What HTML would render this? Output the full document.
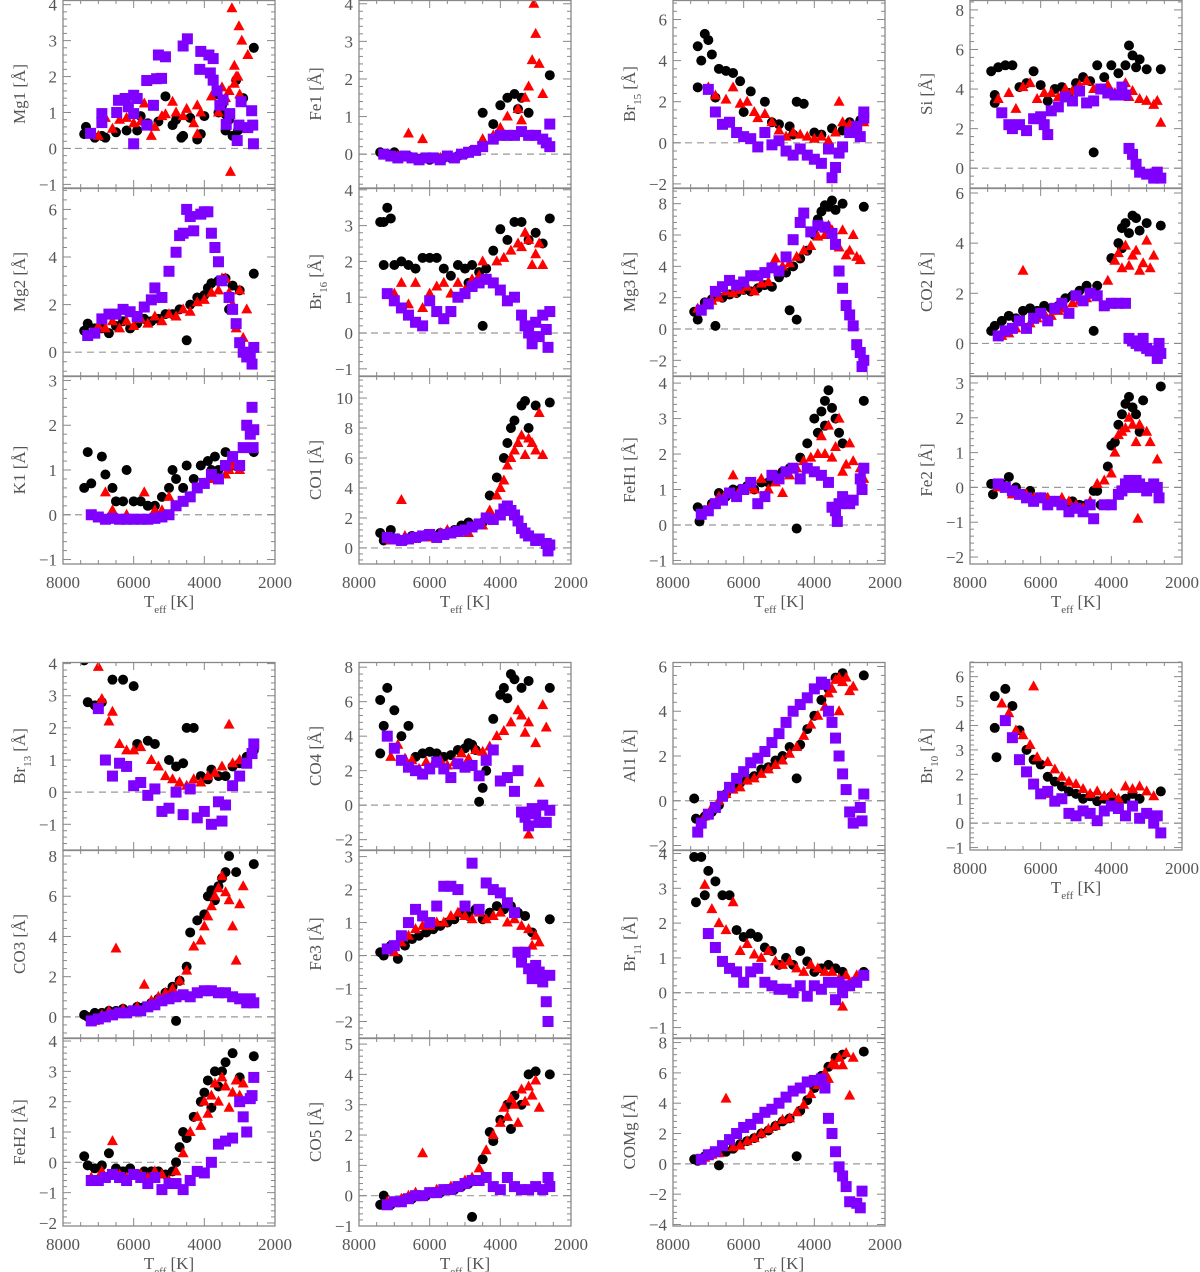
<!DOCTYPE html>
<html><head><meta charset="utf-8"><style>
html,body{margin:0;padding:0;background:#fff;}
svg{display:block;font-family:"Liberation Serif",serif;}
</style></head><body>
<svg id="fig" width="1200" height="1272" viewBox="0 0 1200 1272" xmlns="http://www.w3.org/2000/svg"></svg>
<script>
// ---- data arrays: flat [Teff, value, Teff, value, ...] ----
const mg1K=[7400,0.4,7350,0.6,7100,0.3,6900,0.35,6800,0.3,6500,0.45,6200,0.5,5900,0.5,5800,0.9,5600,0.7,5300,0.75,5100,1.45,4900,0.65,4800,0.8,4650,0.3,4600,0.35,4400,0.85,4200,0.25,4100,0.4,4000,0.9,3700,1.5,3600,1.0,3500,1.2,3400,0.95,3300,0.8,3400,0.5,3200,0.35,3100,1.9,2900,1.4,3050,0.5,2600,2.8];
const mg1R=[7200,0.4,7000,0.35,6800,0.85,6600,0.55,6400,0.8,6200,0.85,6000,0.7,5800,0.75,5700,1.25,5500,0.35,5400,0.6,5200,0.9,5100,0.95,4900,1.3,4800,1.0,4600,0.9,4500,1.1,4300,0.7,4200,1.2,4100,1.0,3800,1.45,3600,1.0,3500,1.7,3400,1.4,3300,1.6,4200,0.4,3150,1.8,3000,1.5,3050,2.0,3150,2.3,3220,3.9,3020,3.4,2940,3.0,2770,2.6,3260,-0.65,3100,2.0];
const mg1P=[7220,0.42,6900,0.72,6900,0.97,6480,1.0,6430,1.34,6240,1.39,6150,1.16,6000,1.48,5900,1.39,6000,0.97,6000,0.13,5630,0.65,5630,1.89,5440,1.2,5350,1.94,5210,1.95,5300,2.6,5100,2.55,4600,2.85,4480,3.05,4130,2.2,4100,2.7,3870,2.6,3750,2.5,3830,2.1,3750,1.9,3640,1.6,3560,1.2,3470,1.35,3380,0.67,3280,0.97,3070,0.22,3020,0.65,2960,1.3,2770,0.58,2660,1.05,2610,0.13,2630,0.65];
const fe1K=[7400,0.05,7200,0.0,7000,0.05,6800,-0.05,6600,-0.05,6400,-0.1,6200,-0.1,6000,-0.15,5800,-0.1,5600,-0.1,5400,-0.1,5200,-0.05,5000,0.0,4800,0.1,4500,1.1,4200,0.8,4000,1.3,3800,1.5,3600,1.6,3400,1.5,3200,1.1,2600,2.1,3500,1.2];
const fe1R=[7200,0.0,6900,-0.05,6600,0.55,6200,0.4,6000,-0.1,5700,-0.1,5400,-0.05,5100,0.0,4800,0.1,4500,0.4,4200,0.5,4000,0.7,3800,1.0,3500,1.2,3300,1.5,3200,1.8,3100,2.5,3000,3.2,3050,4.0,2900,2.4,2800,1.6,3400,0.9];
const fe1P=[7300,0.0,7100,-0.05,6900,-0.1,6700,-0.05,6500,-0.1,6300,-0.15,6100,-0.1,5900,-0.1,5700,-0.15,5500,-0.05,5300,-0.1,5100,0.0,4900,0.05,4700,0.1,4500,0.2,4200,0.4,4000,0.5,3800,0.5,3600,0.5,3400,0.6,3200,0.5,3000,0.5,2800,0.4,2600,0.2,2600,0.8,2700,0.3];
const br15K=[7300,4.7,7200,4.0,7100,5.3,7000,5.0,6900,4.3,6700,3.6,6500,3.5,6300,3.4,6100,3.0,5800,2.5,5400,2.0,4500,2.0,4300,1.9,5000,0.9,4700,0.8,4600,0.4,4000,0.5,3800,0.4,3500,0.7,3200,0.6,3000,1.0,2700,1.1,7300,2.7,6800,2.2,6000,1.5,5200,1.0];
const br15R=[7000,2.7,6800,2.3,6500,2.1,6300,2.7,6100,1.9,5900,2.0,5700,1.5,5600,1.2,5400,1.4,5200,1.0,5000,0.6,4800,0.3,4600,0.5,4400,0.4,4200,0.3,4000,0.2,3800,0.3,3600,0.1,3400,0.5,3300,2.0,3200,1.0,3000,0.9,2800,0.7,2600,1.0];
const br15P=[7000,2.6,6800,1.5,6600,0.9,6400,1.0,6200,0.5,6000,0.3,5800,0.2,5600,-0.2,5400,0.5,5200,-0.1,5000,0.1,4800,-0.4,4600,-0.6,4400,-0.3,4200,-0.6,4000,-0.8,3800,-1.0,3600,-0.3,3500,-1.7,3400,-1.2,3300,-0.5,3200,-0.2,3000,0.5,2800,0.8,2600,1.2,2600,1.5,2700,0.3];
const siK=[7400,4.9,7300,3.7,7200,5.1,7000,5.2,6800,5.2,6600,4.1,6400,4.3,6200,4.9,6000,4.2,5800,3.4,5600,4.0,5400,4.1,5200,3.8,5000,4.3,4800,4.6,4600,4.4,4400,5.2,4200,4.6,4000,5.2,3800,4.8,3600,5.2,3500,6.2,3400,5.7,3300,5.1,3200,5.5,3000,5.0,2600,5.0,4500,0.8,7300,3.3];
const siR=[7200,3.5,6900,3.8,6700,3.0,6500,4.1,6300,4.3,6100,3.5,5900,3.8,5700,3.8,5500,3.6,5300,4.0,5100,3.9,4900,4.2,4700,4.4,4500,4.0,4300,4.0,4100,4.2,3900,3.8,3700,4.0,3600,4.3,3500,3.6,3400,3.9,3200,3.5,3000,3.4,2800,3.2,2700,3.4,2600,2.3];
const siP=[7100,2.8,6900,2.2,6800,2.0,6600,2.2,6400,1.9,6200,2.5,6000,2.6,5900,2.2,5800,1.7,5700,2.9,5500,3.1,5300,3.6,5100,3.4,4900,3.9,4700,3.3,4500,3.4,4300,4.0,4100,3.8,3900,3.7,3700,4.1,3500,1.0,3400,0.7,3300,0.2,3200,-0.2,3000,-0.3,2800,-0.5,2600,-0.5,2700,-0.2,3600,3.7];
const mg2K=[7400,0.9,7300,1.2,7100,1.0,6900,1.0,6700,0.8,6500,1.1,6300,1.3,6100,1.0,5900,1.2,5700,1.4,5500,1.3,5300,1.4,5100,1.6,4900,1.6,4700,1.8,4500,0.5,4400,2.0,4200,2.3,4000,2.4,3900,2.7,3800,2.9,3600,3.0,3400,3.1,3200,2.8,3000,2.6,2600,3.3,3300,1.8];
const mg2R=[7200,0.8,7000,1.1,6800,1.0,6600,1.3,6400,1.0,6200,1.3,6000,1.1,5800,1.4,5600,1.2,5400,1.5,5200,1.3,5000,1.6,4800,1.5,4600,1.8,4400,1.7,4200,2.1,4000,2.2,3800,2.5,3600,2.6,3500,3.1,3400,3.1,3300,2.5,3200,2.0,3100,1.0,3000,2.6,2900,0.6,2800,1.8];
const mg2P=[7300,0.7,7100,0.8,6900,1.4,6700,1.6,6500,1.6,6300,1.8,6100,1.7,5900,1.5,5700,1.9,5500,2.2,5400,2.7,5200,2.3,5000,3.4,4800,4.2,4700,4.9,4600,5.0,4500,6.0,4400,5.7,4300,5.1,4100,5.8,4000,5.9,3900,5.9,3800,5.0,3700,4.4,3600,3.8,3500,3.0,3300,2.3,3200,1.8,3100,1.2,3000,0.4,2900,0.0,2800,-0.2,2650,-0.5,2600,0.2,2700,-0.2];
const br16K=[7400,3.1,7300,3.1,7200,3.5,7100,3.2,7300,1.9,7000,1.9,6800,2.0,6600,1.9,6400,1.8,6200,2.1,6000,2.1,5800,2.1,5600,1.8,5400,1.6,5200,1.9,5000,1.8,4900,1.4,4800,1.9,4600,1.7,4500,0.2,4400,1.8,4200,2.3,4000,2.9,3800,2.6,3600,3.1,3400,3.1,3200,2.6,3000,2.8,2800,2.5,2600,3.2];
const br16R=[7000,1.1,6800,1.4,6600,0.8,6400,1.4,6200,0.7,6000,1.1,5800,1.3,5600,1.4,5400,1.1,5200,1.4,5000,1.2,4800,1.5,4600,1.6,4500,2.0,4300,1.5,4100,2.0,3900,2.1,3700,2.3,3500,2.5,3400,2.4,3300,2.8,3200,2.6,3100,1.9,3000,2.2,2900,2.5,2800,1.9];
const br16P=[7200,1.1,7000,0.9,6800,0.7,6600,0.5,6400,0.3,6200,0.2,6000,0.9,5800,0.6,5600,0.4,5400,0.6,5200,1.0,5000,1.1,4800,1.3,4600,1.4,4400,1.5,4200,1.4,4000,1.2,3800,0.9,3600,1.0,3400,0.5,3300,0.2,3200,0.0,3100,-0.3,3000,0.3,2900,-0.1,2800,0.5,2700,0.1,2650,-0.4,2600,0.6];
const mg3K=[7400,1.1,7300,0.6,7100,1.7,6900,1.9,6800,0.2,6600,2.0,6400,2.2,6200,2.3,6000,2.5,5800,2.4,5600,2.6,5400,2.8,5200,2.7,5000,3.3,4800,3.6,4700,1.2,4600,4.0,4500,0.6,4400,4.5,4200,5.0,4000,6.0,3900,7.0,3800,7.5,3700,7.9,3600,7.8,3500,8.2,3400,7.6,3200,8.0,2600,7.8];
const mg3R=[7300,1.3,7100,1.5,6900,1.8,6700,2.0,6500,2.4,6300,2.3,6100,2.5,5900,2.7,5700,2.4,5500,2.9,5300,3.0,5100,4.5,4900,4.0,4700,4.2,4500,4.6,4300,5.0,4100,5.3,3900,5.9,3700,6.0,3600,6.6,3500,6.3,3400,5.6,3300,5.2,3200,6.3,3100,4.7,3000,5.0,2900,6.0,2800,4.6,2700,4.4];
const mg3P=[7200,1.2,7000,1.6,6800,2.4,6600,2.7,6400,3.1,6200,2.8,6000,3.0,5800,3.4,5600,3.4,5400,3.6,5200,3.9,5000,3.7,4800,4.6,4600,5.7,4400,6.8,4300,7.4,4100,6.2,3900,6.6,3700,6.5,3500,6.1,3400,5.4,3300,3.7,3200,2.6,3100,1.5,3000,0.9,2900,0.2,2800,-1.0,2700,-1.5,2650,-2.4,2600,-2.0];
const co2K=[7400,0.5,7300,0.7,7100,0.9,6900,1.1,6700,1.0,6500,1.3,6300,1.4,6100,1.3,5900,1.5,5700,1.4,5500,1.5,5300,1.8,5100,1.9,4900,2.1,4700,2.3,4500,0.5,4400,2.3,4000,3.4,3800,4.0,3700,4.6,3600,4.8,3500,4.4,3400,5.1,3300,5.0,3200,4.5,3000,4.8,2600,4.7,3700,3.8];
const co2R=[7100,0.3,6900,0.4,6700,0.6,6500,2.9,6300,0.8,6100,1.0,5900,1.2,5700,1.1,5500,1.3,5300,1.4,5100,1.6,4900,1.7,4700,1.8,4500,2.0,4100,2.5,3900,3.3,3800,3.6,3700,3.0,3600,3.9,3500,3.1,3400,3.5,3300,3.7,3200,2.9,3100,3.2,3000,4.1,2900,3.0,2800,3.5];
const co2P=[7200,0.3,7000,0.5,6800,0.6,6600,0.9,6400,0.6,6200,1.0,6000,1.2,5800,0.9,5600,1.4,5400,1.6,5200,1.2,5000,1.9,4800,1.7,4600,2.0,4400,1.9,4200,1.5,4000,1.6,3800,1.6,3600,1.6,3500,0.2,3400,0.1,3300,0.0,3200,-0.1,3100,0.2,3000,-0.2,2900,-0.3,2700,-0.6,2600,-0.4,2650,0.0];
const k1K=[7400,0.6,7300,1.4,7200,0.7,6900,1.3,6800,0.9,6600,0.6,6500,0.3,6300,0.3,6200,1.0,6000,0.3,5800,0.3,5600,0.2,5400,0.2,5200,0.4,5000,0.6,4900,1.0,4800,0.8,4600,0.6,4500,1.1,4300,0.8,4100,1.1,3900,1.2,3800,1.0,3700,1.3,3600,1.0,3400,1.4,3200,1.1,2600,1.4];
const k1R=[7100,0.0,6800,0.5,6600,0.1,6200,0.0,6000,-0.1,5700,0.5,5400,0.1,5200,0.1,5000,0.4,4800,0.2,4600,0.3,4400,0.4,4200,0.6,4000,0.7,3800,0.8,3600,0.8,3400,0.9,3300,1.0,3200,1.1,3000,1.0];
const k1P=[7200,0.0,7000,-0.05,6800,-0.1,6600,-0.08,6400,-0.1,6200,-0.1,6000,-0.1,5800,-0.1,5600,-0.1,5400,-0.08,5200,-0.05,5000,0.0,4800,0.2,4600,0.3,4400,0.4,4200,0.6,4000,0.7,3800,0.9,3600,0.8,3400,1.1,3200,1.3,3000,1.1,2900,1.5,2800,2.0,2700,1.8,2650,2.4,2600,1.9,2620,1.5];
const co1K=[7400,1.0,7300,0.5,7100,1.2,6900,0.6,6700,0.5,6500,0.8,6300,0.7,6100,0.9,5900,0.8,5700,1.0,5500,1.0,5300,1.2,5100,1.5,4900,1.7,4700,1.5,4500,1.7,4300,3.5,4100,4.7,3900,6.0,3800,7.0,3700,8.0,3600,8.5,3400,9.5,3300,9.8,3200,8.0,3000,9.5,2600,9.7];
const co1R=[7100,0.5,6900,0.6,6700,0.8,6500,0.6,6300,0.8,6100,0.7,5900,0.8,5700,1.0,5500,1.2,5300,1.0,5100,1.1,4900,1.0,4500,1.5,4300,2.5,4100,3.5,4000,4.0,3900,4.5,3800,5.5,3700,6.0,3600,6.5,3500,7.0,3400,7.5,3300,6.2,3200,7.3,3100,7.0,3000,6.5,2900,9.0,2800,6.2,6800,3.2];
const co1P=[7200,0.7,7000,0.6,6800,0.5,6600,0.6,6400,0.7,6200,0.8,6000,0.9,5800,0.7,5600,0.9,5400,1.0,5200,1.1,5000,1.2,4800,1.4,4600,1.6,4400,2.0,4200,1.9,4000,2.2,3900,2.6,3800,2.8,3700,2.5,3600,2.2,3500,1.8,3400,1.3,3300,1.0,3200,0.8,3000,0.5,2900,0.6,2700,0.3,2650,-0.2,2600,0.2];
const feh1K=[7300,0.5,7250,0.1,7100,0.4,6900,0.6,6700,0.9,6500,0.8,6300,1.0,6100,1.0,5900,1.1,5700,1.0,5500,1.2,5300,1.2,5100,1.4,4900,1.5,4700,1.6,4500,-0.1,4400,1.9,4200,2.3,4000,3.0,3900,2.6,3800,3.2,3700,3.5,3600,3.8,3500,3.3,3400,3.0,3300,2.6,3200,2.3,2600,3.5,3700,2.8];
const feh1R=[7100,0.4,6900,0.6,6700,0.8,6500,0.9,6300,1.4,6100,1.0,5900,1.1,5700,1.0,5500,1.3,5300,1.0,5100,1.2,4900,0.9,4700,1.4,4500,1.6,4300,1.8,4100,1.9,3900,2.0,3800,2.5,3700,2.0,3600,2.8,3500,1.9,3400,2.2,3300,3.0,3200,1.5,3100,1.7,3000,2.3,2900,1.8,2700,1.6,2600,1.3];
const feh1P=[7200,0.3,7000,0.4,6800,0.6,6600,0.7,6400,0.9,6200,0.8,6000,1.0,5800,1.2,5600,0.6,5400,0.8,5200,1.4,5000,1.3,4800,1.5,4600,1.6,4400,1.3,4200,1.6,4000,1.5,3800,1.4,3600,1.2,3500,0.5,3400,0.4,3350,0.1,3300,0.6,3200,0.8,3000,0.6,2900,0.7,2700,1.3,2600,1.6,2650,1.0];
const fe2K=[7400,0.1,7350,-0.2,7100,0.1,6900,0.3,6700,0.0,6500,-0.2,6300,-0.1,6100,-0.3,5900,-0.3,5700,-0.4,5500,-0.4,5300,-0.5,5100,-0.4,4900,-0.5,4700,-0.5,4500,-0.1,4400,-0.1,4300,-0.5,4100,0.6,4000,1.2,3900,1.3,3800,1.8,3700,2.1,3600,2.4,3500,2.6,3400,2.3,3300,2.1,3200,1.6,3100,2.5,2600,2.9];
const fe2R=[7200,0.0,7000,0.0,6800,-0.2,6600,-0.2,6400,-0.2,6200,-0.3,6000,-0.3,5800,-0.3,5600,-0.4,5400,-0.3,5200,-0.4,5000,-0.5,4800,-0.6,4600,-0.4,4400,0.1,4200,0.2,4000,0.4,3900,1.0,3800,1.5,3700,1.6,3600,1.7,3500,2.0,3400,1.8,3300,1.3,3250,-0.9,3200,1.8,3000,1.6,2900,1.3,2700,0.8];
const fe2P=[7200,0.1,7000,0.0,6800,-0.1,6600,-0.2,6400,-0.3,6200,-0.4,6000,-0.3,5800,-0.5,5600,-0.4,5400,-0.5,5200,-0.7,5000,-0.6,4800,-0.7,4600,-0.5,4500,-0.9,4200,-0.5,4000,-0.5,3800,-0.2,3700,-0.1,3600,0.1,3500,0.2,3400,0.0,3300,0.2,3200,0.1,3100,0.0,3000,-0.1,2800,0.1,2700,0.0,2650,-0.3];
const br13K=[7400,4.1,7300,2.8,7100,2.7,6900,2.8,6600,3.5,6300,3.5,6000,3.3,5900,1.5,5600,1.6,5400,1.5,5000,1.0,4800,0.8,4600,0.9,4500,2.0,4300,2.0,4100,0.5,3900,0.4,3800,0.7,3600,0.5,3400,0.5,3200,0.8,3000,0.9,2800,1.1,2600,1.3];
const br13R=[7000,3.9,6900,2.9,6700,2.2,6600,2.5,6400,1.5,6200,1.3,6000,1.3,5800,1.4,5500,1.0,5300,0.8,5100,0.5,4900,0.4,4700,0.3,4500,0.2,4300,0.4,4100,0.3,3900,0.5,3700,0.6,3500,0.8,3300,2.1,3200,0.9,3000,1.0,2800,0.9];
const br13P=[7000,2.6,6800,1.0,6600,0.5,6400,0.9,6200,0.8,6000,0.2,5800,0.3,5600,-0.1,5400,0.1,5200,-0.6,5000,-0.5,4800,0.0,4600,-0.7,4400,0.1,4200,-0.8,4000,-0.6,3800,-1.0,3600,-0.3,3500,-0.9,3400,-0.4,3200,0.2,3000,0.5,2800,0.9,2600,1.5,2650,1.2];
const co4K=[7400,6.1,7400,3.0,7300,4.6,7200,6.8,7000,5.5,6800,4.0,6600,4.6,6400,2.8,6200,3.0,6000,3.1,5800,3.0,5600,2.8,5400,2.9,5200,3.2,5000,3.3,4900,3.6,4800,3.5,4700,3.2,4600,0.2,4500,1.0,4400,2.0,4200,5.0,4000,6.4,3900,6.8,3800,6.2,3700,7.6,3600,7.3,3400,6.8,3200,7.2,2600,6.8];
const co4R=[7100,2.8,6900,3.5,6700,2.7,6500,2.6,6300,2.1,6100,2.5,5900,2.4,5700,2.6,5500,2.3,5300,2.5,5100,3.0,4900,2.7,4700,3.2,4500,3.1,4300,3.4,4100,4.0,3900,4.3,3700,4.8,3500,5.5,3400,5.2,3300,4.2,3200,4.8,3000,3.6,2900,1.3,2800,5.8,2700,4.5,3200,-1.7];
const co4P=[7200,4.0,7000,3.3,6800,2.6,6600,2.2,6400,2.0,6200,1.8,6000,2.1,5800,2.5,5600,2.1,5400,1.6,5200,2.4,5000,2.2,4800,2.3,4600,1.7,4400,2.6,4200,3.2,4000,1.4,3800,1.6,3600,0.8,3500,2.0,3400,-0.4,3300,-0.7,3200,-1.2,3100,-0.2,3000,-0.5,2900,-1.0,2800,0.0,2700,-1.0,2600,-0.3];
const al1K=[7400,0.1,7350,-0.8,7100,-0.7,6900,-0.5,6700,-0.2,6500,0.3,6300,0.6,6100,0.8,5900,1.0,5700,1.1,5500,1.4,5300,1.5,5100,1.8,4900,2.0,4700,2.4,4500,1.0,4400,2.5,4200,3.2,4000,3.8,3800,4.5,3600,5.0,3400,5.5,3200,5.7,2600,5.6];
const al1R=[7100,-0.7,6900,-0.3,6700,0.0,6500,0.3,6300,0.5,6100,0.6,5900,0.9,5700,1.0,5500,1.2,5300,1.4,5100,1.6,4900,1.8,4700,2.1,4500,2.4,4300,2.9,4100,3.4,3900,3.8,3700,4.2,3600,4.8,3500,5.0,3400,5.4,3300,5.5,3200,5.3,3100,5.5,3000,4.9,2900,5.1,3300,4.0];
const al1P=[7300,-1.4,7200,-1.0,7000,-0.6,6800,-0.3,6600,0.2,6400,0.6,6200,1.0,6000,1.3,5800,1.7,5600,1.9,5400,2.2,5200,2.6,5000,3.0,4800,3.5,4600,4.0,4400,4.3,4200,4.6,4000,5.0,3800,5.3,3700,5.2,3600,4.0,3500,3.5,3400,2.8,3300,2.0,3200,1.2,3100,0.5,3000,-0.5,2900,-1.0,2700,-0.3,2600,0.3,2650,-0.9];
const br10K=[7300,5.2,7300,3.9,7250,2.7,7000,5.5,6800,4.8,6600,3.8,6400,3.0,6200,2.6,6000,2.4,5800,1.9,5600,1.7,5400,1.5,5200,1.3,5000,1.2,4800,1.0,4600,1.1,4400,0.9,4200,1.0,4000,1.1,3800,0.9,3600,1.0,3400,1.2,3200,1.0,2600,1.3];
const br10R=[7100,4.9,6900,4.5,6700,3.8,6500,3.6,6300,3.2,6200,5.6,6100,2.7,5900,1.2,5800,2.5,5600,2.2,5400,1.9,5200,1.7,5000,1.6,4800,1.4,4600,1.2,4400,1.3,4200,1.1,4000,1.2,3800,1.0,3600,1.5,3400,1.4,3200,1.5,3000,1.3,2800,1.1];
const br10P=[7000,4.2,6800,3.5,6600,2.6,6400,2.1,6200,1.6,6000,1.2,5800,1.3,5600,0.9,5400,1.0,5200,0.4,5000,0.3,4800,0.5,4600,0.4,4400,0.1,4200,0.5,4000,0.7,3800,0.6,3600,0.3,3400,0.7,3200,0.2,3000,0.4,2800,0.0,2600,-0.4,2700,0.3];
const co3K=[7400,0.1,7300,0.0,7100,0.2,6900,0.2,6700,0.3,6500,0.3,6300,0.4,6100,0.3,5900,0.5,5700,0.5,5500,0.7,5300,0.9,5100,1.2,4900,1.5,4800,-0.2,4700,1.8,4500,2.5,4400,4.2,4200,4.8,4000,5.1,3900,6.0,3800,6.3,3700,5.8,3600,6.5,3500,6.9,3400,7.2,3300,8.0,3100,7.2,2600,7.6];
const co3R=[7100,-0.2,6900,0.1,6700,0.3,6500,3.4,6300,0.4,6100,0.3,5900,0.5,5700,1.6,5500,0.8,5300,1.0,5100,1.2,4900,1.4,4700,1.8,4500,2.3,4300,3.5,4100,3.8,4000,4.5,3900,5.0,3800,5.5,3700,6.0,3600,6.4,3500,7.0,3400,6.2,3300,5.8,3200,4.5,3100,2.8,3000,5.6,2900,6.5];
const co3P=[7200,-0.2,7000,-0.1,6800,0.0,6600,0.1,6400,0.2,6200,0.2,6000,0.3,5800,0.3,5600,0.5,5400,0.6,5200,0.8,5000,0.9,4800,1.0,4600,1.1,4400,1.0,4200,1.2,4000,1.3,3800,1.3,3600,1.2,3400,1.2,3200,1.0,3000,0.9,2800,0.7,2600,0.7,2700,0.9];
const fe3K=[7400,0.1,7300,0.0,7100,0.3,6900,-0.1,6700,0.3,6500,0.5,6300,0.6,6100,0.7,5900,0.8,5700,0.9,5500,1.0,5300,1.1,5100,1.3,4900,1.2,4700,1.4,4500,1.1,4300,1.3,4100,1.5,3900,1.4,3700,1.5,3500,1.3,3300,1.2,3100,0.7,2600,1.1];
const fe3R=[7200,0.2,7000,0.1,6800,0.4,6600,0.6,6400,0.8,6200,0.9,6000,0.9,5800,1.0,5600,1.0,5400,1.2,5200,1.3,5000,1.2,4800,1.1,4600,1.3,4400,1.1,4200,1.2,4000,1.3,3800,1.0,3600,1.1,3400,0.9,3200,0.8,3100,0.3,3000,0.6,2900,0.4];
const fe3P=[7200,0.2,7000,0.3,6800,0.6,6600,1.0,6400,1.4,6200,1.2,6000,1.0,5800,1.5,5600,2.1,5400,2.1,5200,2.0,5000,1.5,4800,2.8,4600,1.4,4400,2.2,4200,2.0,4000,1.9,3800,1.6,3600,1.3,3500,0.1,3400,-0.2,3300,0.1,3200,-0.4,3100,-0.7,3000,-0.3,2900,-0.5,2800,-0.8,2700,-1.4,2650,-2.0,2600,-0.6];
const br11K=[7400,3.9,7350,2.6,7200,3.9,7100,2.8,7000,3.5,6800,3.2,6600,2.8,6400,2.8,6200,1.8,6000,1.6,5800,1.7,5600,1.6,5400,1.3,5200,1.2,5000,0.8,4800,1.0,4600,0.8,4400,1.2,4200,0.9,4000,0.6,3800,0.7,3600,0.8,3400,0.7,3200,0.6,2600,0.6];
const br11R=[7100,3.1,6900,2.4,6700,2.0,6500,1.8,6300,2.6,6100,1.2,5900,1.4,5700,1.1,5500,1.0,5300,1.2,5100,0.9,4900,0.8,4700,0.9,4500,0.7,4300,0.6,4100,0.8,3900,0.7,3700,0.6,3500,0.6,3300,0.4,3200,-0.4,3100,0.5,3000,0.3,2800,0.5];
const br11P=[7000,1.7,6800,1.3,6600,0.9,6400,0.7,6200,0.6,6000,0.3,5800,0.6,5600,0.7,5400,0.3,5200,0.2,5000,0.1,4800,0.1,4600,0.0,4400,0.2,4200,-0.1,4000,0.2,3800,0.1,3600,0.3,3400,-0.2,3300,0.3,3200,0.0,3000,0.2,2800,0.3,2600,0.5];
const feh2K=[7400,0.2,7300,-0.1,7100,-0.2,6900,-0.1,6700,0.3,6500,-0.2,6300,-0.3,6100,-0.2,5900,-0.4,5700,-0.3,5500,-0.3,5300,-0.3,5100,-0.4,4900,-0.3,4800,0.0,4700,0.5,4600,1.0,4500,0.8,4300,1.5,4100,2.0,4000,2.3,3900,2.7,3800,1.8,3700,3.0,3600,2.5,3500,3.0,3400,3.3,3200,3.6,3000,2.8,2600,3.5];
const feh2R=[7200,-0.5,6900,-0.3,6600,0.7,6400,-0.4,6200,-0.5,6000,-0.4,5800,-0.4,5600,-0.5,5400,-0.3,5200,-0.4,5000,-0.6,4800,-0.3,4600,0.3,4400,1.0,4200,1.5,4100,1.2,4000,2.0,3900,1.6,3800,2.2,3700,2.6,3600,2.0,3500,2.8,3400,2.5,3300,1.8,3200,2.3,3100,2.7,3000,2.2,2900,2.6];
const feh2P=[7200,-0.6,7000,-0.6,6800,-0.5,6600,-0.4,6400,-0.5,6200,-0.6,6000,-0.4,5800,-0.5,5600,-0.7,5400,-0.5,5200,-0.9,5000,-0.7,4800,-0.7,4600,-0.9,4400,-0.6,4200,-0.3,4000,-0.35,3800,0.0,3600,0.6,3400,0.7,3200,0.8,3000,2.0,2900,1.5,2800,1.0,2700,2.1,2600,2.8,2650,2.2];
const co5K=[7400,-0.3,7300,0.0,7100,-0.3,6900,-0.2,6700,-0.1,6500,-0.1,6300,0.0,6100,0.0,5900,0.1,5700,0.1,5500,0.2,5300,0.2,5100,0.3,4900,0.4,4800,-0.7,4700,0.5,4500,1.2,4300,2.1,4200,1.8,4000,2.5,3800,3.0,3700,2.2,3600,3.3,3400,3.0,3200,4.0,3000,4.1,2600,4.0];
const co5R=[7200,-0.2,7000,-0.2,6800,-0.1,6600,0.0,6400,0.1,6200,1.4,6000,0.1,5800,0.2,5600,0.2,5400,0.3,5200,0.3,5000,0.5,4800,0.6,4600,0.9,4400,1.5,4200,2.0,4000,2.4,3900,2.9,3800,2.6,3700,3.2,3600,3.0,3500,2.4,3400,3.5,3300,3.1,3200,3.6,3100,3.3,3000,3.8,2900,2.9];
const co5P=[7200,-0.3,7000,-0.2,6800,-0.2,6600,-0.1,6400,0.0,6200,0.0,6000,0.1,5800,0.1,5600,0.2,5400,0.2,5200,0.3,5000,0.4,4800,0.5,4600,0.5,4400,0.6,4200,0.3,4000,0.2,3800,0.6,3600,0.3,3400,0.2,3200,0.2,3000,0.3,2800,0.2,2600,0.3,2650,0.6];
const comgK=[7400,0.3,7300,0.2,7100,0.5,6900,0.7,6700,-0.1,6500,0.8,6300,1.0,6100,1.3,5900,1.5,5700,1.7,5500,2.0,5300,2.2,5100,2.5,4900,2.8,4700,3.0,4500,0.5,4400,3.5,4200,4.2,4000,5.0,3800,5.8,3600,6.4,3400,7.0,3200,7.2,2600,7.4];
const comgR=[7100,0.4,6900,0.6,6700,0.7,6500,4.3,6300,1.1,6100,1.2,5900,1.5,5700,1.7,5500,2.0,5300,2.3,5100,2.5,4900,2.9,4700,3.0,4500,3.4,4300,3.9,4100,4.6,3900,5.2,3700,6.0,3600,5.6,3500,6.6,3400,6.5,3300,7.0,3200,6.5,3100,7.3,3000,4.5,2900,7.0];
const comgP=[7200,0.3,7000,0.6,6800,0.8,6600,1.2,6400,1.6,6200,2.0,6000,2.4,5800,2.6,5600,3.0,5400,3.4,5200,3.6,5000,4.0,4800,4.4,4600,4.8,4400,5.0,4200,5.4,4000,5.5,3800,5.6,3700,5.0,3600,3.0,3500,2.0,3400,0.8,3300,-0.2,3200,-0.8,3100,-1.5,3000,-2.5,2800,-2.6,2700,-2.9,2650,-1.8];
const xTicks=[8000,6000,4000,2000];

// ---- layout ----
const COLS=[63,359,673,970], W=212, H=188;
const TOPS=[0,188,376,662,850,1038];
const panels=[
 {id:'mg1',lab:'Mg1',c:0,r:0,y0:-1.1,y1:4.13,st:1,d:[mg1K,mg1R,mg1P]},
 {id:'mg2',lab:'Mg2',c:0,r:1,y0:-1,y1:6.9,st:2,d:[mg2K,mg2R,mg2P]},
 {id:'k1',lab:'K1',c:0,r:2,y0:-1.1,y1:3.1,st:1,d:[k1K,k1R,k1P],xl:1},
 {id:'fe1',lab:'Fe1',c:1,r:0,y0:-0.9,y1:4.1,st:1,d:[fe1K,fe1R,fe1P]},
 {id:'br16',lab:'Br<tspan baseline-shift="sub" font-size="11">16</tspan>',c:1,r:1,y0:-1.2,y1:4.05,st:1,d:[br16K,br16R,br16P]},
 {id:'co1',lab:'CO1',c:1,r:2,y0:-1.07,y1:11.47,st:2,d:[co1K,co1R,co1P],xl:1},
 {id:'br15',lab:'Br<tspan baseline-shift="sub" font-size="11">15</tspan>',c:2,r:0,y0:-2.2,y1:6.95,st:2,d:[br15K,br15R,br15P]},
 {id:'mg3',lab:'Mg3',c:2,r:1,y0:-3,y1:9,st:2,d:[mg3K,mg3R,mg3P]},
 {id:'feh1',lab:'FeH1',c:2,r:2,y0:-1.1,y1:4.2,st:1,d:[feh1K,feh1R,feh1P],xl:1},
 {id:'si',lab:'Si',c:3,r:0,y0:-1,y1:8.5,st:2,d:[siK,siR,siP]},
 {id:'co2',lab:'CO2',c:3,r:1,y0:-1.3,y1:6.2,st:2,d:[co2K,co2R,co2P]},
 {id:'fe2',lab:'Fe2',c:3,r:2,y0:-2.2,y1:3.2,st:1,d:[fe2K,fe2R,fe2P],xl:1},
 {id:'br13',lab:'Br<tspan baseline-shift="sub" font-size="11">13</tspan>',c:0,r:3,y0:-1.8,y1:4.05,st:1,d:[br13K,br13R,br13P]},
 {id:'co3',lab:'CO3',c:0,r:4,y0:-1.05,y1:8.3,st:2,d:[co3K,co3R,co3P]},
 {id:'feh2',lab:'FeH2',c:0,r:5,y0:-2.1,y1:4.1,st:1,d:[feh2K,feh2R,feh2P],xl:1},
 {id:'co4',lab:'CO4',c:1,r:3,y0:-2.6,y1:8.3,st:2,d:[co4K,co4R,co4P]},
 {id:'fe3',lab:'Fe3',c:1,r:4,y0:-2.5,y1:3.2,st:1,d:[fe3K,fe3R,fe3P]},
 {id:'co5',lab:'CO5',c:1,r:5,y0:-1.0,y1:5.2,st:1,d:[co5K,co5R,co5P],xl:1},
 {id:'al1',lab:'Al1',c:2,r:3,y0:-2.2,y1:6.2,st:2,d:[al1K,al1R,al1P]},
 {id:'br11',lab:'Br<tspan baseline-shift="sub" font-size="11">11</tspan>',c:2,r:4,y0:-1.3,y1:4.1,st:1,d:[br11K,br11R,br11P]},
 {id:'comg',lab:'COMg',c:2,r:5,y0:-4.1,y1:8.3,st:2,d:[comgK,comgR,comgP],xl:1},
 {id:'br10',lab:'Br<tspan baseline-shift="sub" font-size="11">10</tspan>',c:3,r:3,y0:-1.1,y1:6.6,st:1,d:[br10K,br10R,br10P],xl:1}
];
const NS='http://www.w3.org/2000/svg';
const svg=document.getElementById('fig');
function mk(tag,attrs,parent){const e=document.createElementNS(NS,tag);for(const k in attrs)e.setAttribute(k,attrs[k]);(parent||svg).appendChild(e);return e;}
const AX='#888', TX='#555';
panels.forEach(p=>{
  const L=COLS[p.c], T=TOPS[p.r], B=T+H;
  const g=mk('g',{});
  
  
  const sx=t=>L+(8000-t)/6000*W;
  const sy=v=>B-(v-p.y0)/(p.y1-p.y0)*H;
  // clip
  const cp=mk('clipPath',{id:'cp-'+p.id},g);
  mk('rect',{x:L,y:T,width:W,height:H},cp);
  // zero line
  const z=mk('line',{x1:L,x2:L+W,y1:sy(0),y2:sy(0),stroke:'#999','stroke-width':1.2,'stroke-dasharray':'7,5'},g);
  
  
  // markers
  const mg=mk('g',{'clip-path':'url(#cp-'+p.id+')'},g);
  const cols=['#000','#ff0000','#7f00ff'];
  const names=['series-black-circle','series-red-triangle','series-purple-square'];
  p.d.forEach((arr,si)=>{
    const sg=mk('g',{fill:cols[si]},mg);
    
    
    for(let i=0;i<arr.length;i+=2){
      const x=sx(arr[i]), y=sy(arr[i+1]);
      let m;
      if(si===0) m=mk('circle',{cx:x,cy:y,r:5},sg);
      else if(si===1) m=mk('polygon',{points:`${x},${y-6} ${x-5.5},${y+4} ${x+5.5},${y+4}`},sg);
      else m=mk('rect',{x:x-5.5,y:y-5.5,width:11,height:11},sg);
      
      
    }
  });
  // box
  const bx=mk('rect',{x:L,y:T+0.5,width:W,height:H-0.5,fill:'none',stroke:AX,'stroke-width':1.3},g);
  
  
  // x ticks
  for(let t=8000;t>=2000;t-=500){
    const x=sx(t), len=(t%2000===0)?8:4;
    mk('line',{x1:x,x2:x,y1:B,y2:B-len,stroke:AX},g);
    mk('line',{x1:x,x2:x,y1:T,y2:T+len,stroke:AX},g);
  }
  // y ticks
  const mn=p.st/5;
  for(let v=Math.ceil(p.y0/mn-1e-6)*mn;v<=p.y1+1e-6;v+=mn){
    const y=sy(v), major=Math.abs(v/p.st-Math.round(v/p.st))<1e-6, len=major?8:4;
    mk('line',{x1:L,x2:L+len,y1:y,y2:y,stroke:AX},g);
    mk('line',{x1:L+W,x2:L+W-len,y1:y,y2:y,stroke:AX},g);
    if(major){
      const vv=Math.round(v/p.st)*p.st;
      const tl=mk('text',{x:L-6,y:y+6,'text-anchor':'end','font-size':17,fill:TX},g);
      tl.textContent=vv<0?'\u2212'+(-vv):String(vv);
      
      
    }
  }
  // y label
  const yl=mk('text',{transform:`translate(${L-38},${T+H/2}) rotate(-90)`,'text-anchor':'middle','font-size':17,fill:TX},g);
  yl.innerHTML=p.lab+' [Å]';
  
  
  if(p.xl){
    xTicks.forEach(t=>{
      const xt=mk('text',{x:sx(t),y:B+24,'text-anchor':'middle','font-size':17,fill:TX},g);
      xt.textContent=t;
      
      
    });
    const xt=mk('text',{x:L+W/2,y:B+43,'text-anchor':'middle','font-size':17,fill:TX},g);
    xt.innerHTML='T<tspan baseline-shift="sub" font-size="11">eff</tspan> [K]';
    
    
  }
});
</script>
</body></html>
